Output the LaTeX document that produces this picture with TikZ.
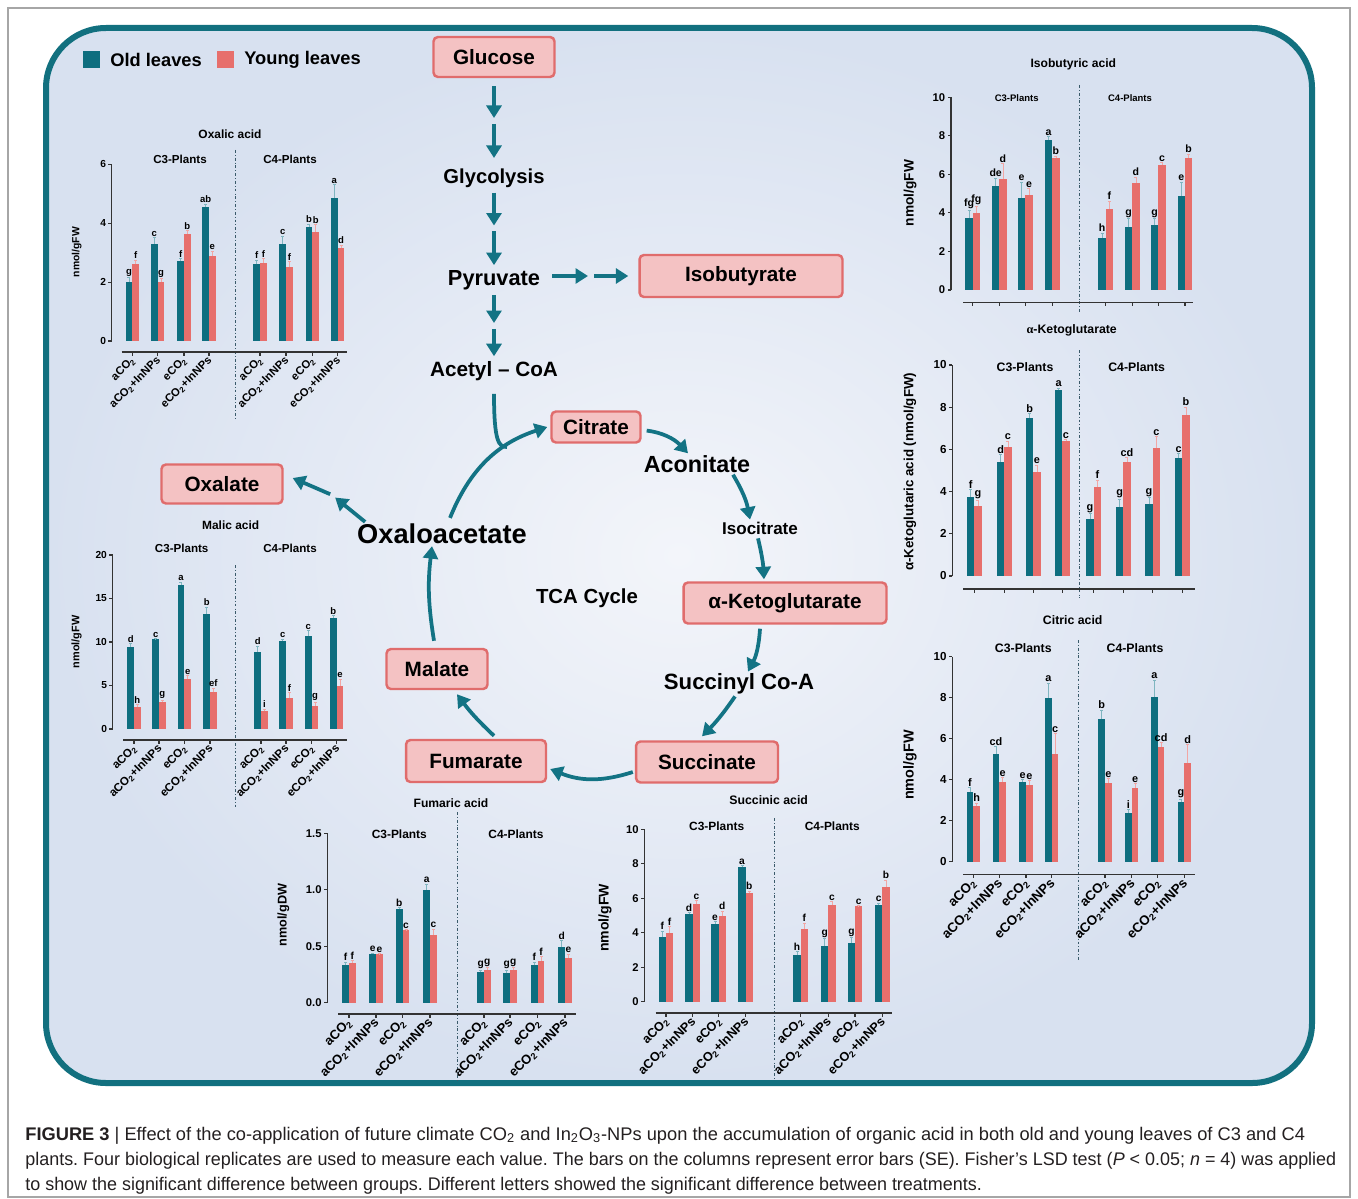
\documentclass[tikz,border=0pt]{standalone}
\usepackage{fontspec}
\setmainfont{Liberation Sans}
\newfontfamily\capfont{Liberation Sans}[FakeStretch=1.0]
\newfontfamily\capfontnarrow{Liberation Sans}[FakeStretch=0.982]
\newfontfamily\serifgreek{Liberation Serif}
\usetikzlibrary{arrows.meta,calc}

\definecolor{oldleaf}{HTML}{0E6E7F}
\definecolor{youngleaf}{HTML}{E76F6C}
\definecolor{olderrc}{HTML}{7FB5C0}
\definecolor{youngerrc}{HTML}{F2A6A4}
\definecolor{boxfill}{HTML}{F4C2C3}
\definecolor{boxedge}{HTML}{E06C6C}
\definecolor{framec}{HTML}{12707F}
\definecolor{flowc}{HTML}{137384}
\definecolor{bgout}{HTML}{D8E1F0}
\definecolor{bgin}{HTML}{F3F5FA}
\definecolor{axisc}{HTML}{333333}
\definecolor{divc}{HTML}{3A5A6A}
\definecolor{captextc}{HTML}{231F20}

\newcommand{\chfont}[1]{\fontsize{#1}{#1}\selectfont\bfseries}
\newcommand{\pathfont}[1]{\fontsize{#1}{#1}\selectfont\bfseries}
\newcommand{\chartfonts}[5]{\def\chT{#1}\def\chG{#2}\def\chK{#3}\def\chL{#4}\def\chX{#5}}
\newcommand{\cotwo}{CO\textsubscript{2}}
\newcommand{\treatlab}[1]{\ifcase#1\or a\cotwo\or a\cotwo+InNPs\or e\cotwo\or e\cotwo+InNPs\or a\cotwo\or a\cotwo+InNPs\or e\cotwo\or e\cotwo+InNPs\fi}

% one bar panel: #1 shift, #2 bars, #3 x labels (1/0), #4-#5 x axis, #6 y ticks, #7 y max
\newcommand{\barpanel}[7]{%
  \begin{scope}[shift={#1}, yscale=-\ppu]
    \draw[axisline] (0,0) -- (0,#7);
    \foreach \tk in {#6} \draw[axisline] (0,\tk) -- (-3.5,\tk) node[ytick] {\tk};
    \draw[axisline] (#4,-\xdrop/\ppu) -- (#5,-\xdrop/\ppu);
    \foreach \gx/\tv/\te/\tl/\rv/\re/\rl [count=\gi] in {#2} {
      \fill[oldleaf] (\gx-\bw,0) rectangle (\gx,\tv);
      \fill[youngleaf] (\gx,0) rectangle (\gx+\bw,\rv);
      \draw[errline, olderrc] (\gx-\bw/2,\tv) -- (\gx-\bw/2,\tv+\te) (\gx-\bw/2-1.5,\tv+\te) -- (\gx-\bw/2+1.5,\tv+\te);
      \draw[errline, youngerrc] (\gx+\bw/2,\rv) -- (\gx+\bw/2,\rv+\re) (\gx+\bw/2-1.5,\rv+\re) -- (\gx+\bw/2+1.5,\rv+\re);
      \node[barletter] at (\gx-\bw/2,\tv+\te) {\tl};
      \node[barletter] at (\gx+\bw/2,\rv+\re) {\rl};
      \draw[axisline] (\gx,-\xdrop/\ppu) -- (\gx,-\xdrop/\ppu-4/\ppu);
      \ifnum#3=1 \node[xlab] at (\gx+2,-\xdrop/\ppu-6/\ppu) {\treatlab{\gi}};\fi
    }
  \end{scope}}

\begin{document}
\frenchspacing
\begin{tikzpicture}[x=0.02cm, y=-0.02cm,
    metabox/.style={draw=boxedge, fill=boxfill, line width=1.4pt, rounded corners=2.5pt,
      inner sep=0pt, font=\pathfont{11.8}},
    pathtext/.style={inner sep=1pt},
    flow/.style={draw=flowc, line width=0.075cm, -{Triangle[width=0.3cm,length=0.25cm]}},
    flowline/.style={draw=flowc, line width=0.075cm},
    legsq/.style={minimum size=0.34cm, inner sep=0pt},
    legtext/.style={anchor=west, font=\pathfont{10.4}, inner sep=0pt},
    axisline/.style={draw=axisc, line width=0.6pt},
    errline/.style={line width=0.5pt},
    divline/.style={draw=divc, line width=0.5pt, dash pattern=on 1.6pt off 1.2pt on 0.4pt off 1.2pt},
    ytick/.style={left, inner sep=1pt, font=\chfont{\chK}},
    barletter/.style={above, inner sep=0.6pt, font=\chfont{\chL}},
    xlab/.style={rotate=45, anchor=east, inner sep=0.5pt, font=\chfont{\chX}},
    chtitle/.style={font=\chfont{\chT}},
    chgroup/.style={font=\chfont{\chG}},
    ylab/.style={rotate=90},
    captext/.style={anchor=base west, inner sep=0pt, text=captextc, font=\capfont\fontsize{10.4}{12}\selectfont}]

\useasboundingbox (0,0) rectangle (1358,1199);

% frames
\draw[gray!70, line width=0.6pt] (8,8) rectangle (1350,1197);
\shade[rounded corners=1.2cm, inner color=bgin, outer color=bgout] (46,28) rectangle (1312,1083);
\draw[framec, line width=0.12cm, rounded corners=1.2cm] (46,28) rectangle (1312,1083);

% legend
\node[legsq, fill=oldleaf] (oldsq) at (91.5,60) {};
\node[legtext] (oldtxt) at (110,60) {Old leaves};
\node[legsq, fill=youngleaf] (youngsq) at (225.5,60) {};
\node[legtext] (youngtxt) at (244,60) {Young leaves};

% pathway
\node[metabox, minimum width=2.42cm, minimum height=0.8cm] (glucose) at (494,57) {Glucose};
\node[pathtext, font=\pathfont{11.5}] (glycolysis) at (494,178) {Glycolysis};
\node[pathtext, font=\pathfont{12.4}] (pyruvate) at (494,280) {Pyruvate};
\node[metabox, minimum width=4.06cm, minimum height=0.84cm] (isobutyrate) at (741,276) {Isobutyrate};
\node[pathtext, font=\pathfont{11.8}] (acetyl) at (494,371) {Acetyl – CoA};
\node[metabox, minimum width=1.78cm, minimum height=0.62cm] (citrate) at (596,427) {Citrate};
\node[pathtext, font=\pathfont{13.3}] (aconitate) at (697,464) {Aconitate};
\node[pathtext, font=\pathfont{9.7}] (isocitrate) at (760,528) {Isocitrate};
\node[metabox, minimum width=4.06cm, minimum height=0.82cm] (akg) at (785,603) {α-Ketoglutarate};
\node[pathtext, font=\pathfont{12.6}] (succinyl) at (739,684) {Succinyl Co-A};
\node[metabox, minimum width=2.84cm, minimum height=0.82cm] (succinate) at (707,762) {Succinate};
\node[metabox, minimum width=2.8cm, minimum height=0.84cm] (fumarate) at (476,761) {Fumarate};
\node[metabox, minimum width=2.02cm, minimum height=0.8cm] (malate) at (437,669) {Malate};
\node[pathtext, font=\pathfont{15.5}] (oxaloacetate) at (442,534) {Oxaloacetate};
\node[metabox, minimum width=2.42cm, minimum height=0.78cm] (oxalate) at (222,484) {Oxalate};
\node[pathtext, font=\pathfont{11.6}] (tca) at (587,598) {TCA Cycle};

% double arrows down the glycolysis line
\coordinate (gmid1) at (494,121);
\coordinate (gmid2) at (494,228.5);
\coordinate (pmid1) at (591,276);
\coordinate (pmid2) at (494,326);
\coordinate (omid) at (332,495);
\coordinate (join) at (507,447);
\draw[flow, shorten <=0.16cm, shorten >=0.06cm] (glucose) -- (gmid1);
\draw[flow, shorten <=0.06cm, shorten >=0.17cm] (gmid1) -- (glycolysis);
\draw[flow, shorten <=0.06cm, shorten >=0.06cm] (glycolysis) -- (gmid2);
\draw[flow, shorten <=0.06cm, shorten >=0.06cm] (gmid2) -- (pyruvate);
\draw[flow, shorten <=0.2cm, shorten >=0.06cm] (pyruvate.east |- pmid1) -- (pmid1);
\draw[flow, shorten <=0.06cm, shorten >=0.2cm] (pmid1) -- (isobutyrate.west);
\draw[flow, shorten <=0.06cm, shorten >=0.06cm] (pyruvate) -- (pmid2);
\draw[flow, shorten <=0.06cm, shorten >=0.06cm] (pmid2) -- (acetyl);
\draw[flowline, shorten <=0.22cm] (acetyl.south) .. controls ([shift={(0,60)}]acetyl.south) and ([shift={(-8,0)}]join) .. (join);

% TCA cycle
\draw[flow, shorten <=0.1cm] ([shift={(0,3)}]citrate.east) to[bend left=20] ([shift={(-9,0)}]aconitate.north);
\draw[flow] ([shift={(36,0)}]aconitate.south) to[bend left=10] ([shift={(-10,0)}]isocitrate.north);
\draw[flow] ([shift={(-2,2)}]isocitrate.south) to[bend left=5] ([shift={(-21,-2)}]akg.north);
\draw[flow] ([shift={(-25,4)}]akg.south) to[bend left=12] ([shift={(9,0)}]succinyl.north);
\draw[flow] ([shift={(-4,0)}]succinyl.south) to[bend left=5] ([shift={(-5,-4)}]succinate.north);
\draw[flow] ([shift={(-2,10)}]succinate.west) to[bend left=20] ([shift={(3,8)}]fumarate.east);
\draw[flow] ([shift={(18,-3)}]fumarate.north) to[bend left=5] ([shift={(20,4)}]malate.south);
\draw[flow] ([shift={(-3,-7)}]malate.north) to[bend left=8] ([shift={(-10,0)}]oxaloacetate.south);
\draw[flow] ([shift={(8,-4)}]oxaloacetate.north) to[bend left=25] ([shift={(-3,0)}]citrate.west);
\draw[flow, shorten >=0.08cm] ([shift={(10,0)}]oxaloacetate.north west) -- (omid);
\draw[flow, shorten <=0.04cm] (omid) -- ([shift={(9,-6)}]oxalate.east);

% Oxalic acid
\chartfonts{6.8}{6.6}{5.8}{5.4}{6.4}
\def\ppu{29.45}\def\bw{6.7}\def\xdrop{11}
\node[chtitle] (oxtitle) at (230,134) {Oxalic acid};
\node[chgroup] (oxcthree) at (180,159) {C3-Plants};
\node[chgroup] (oxcfour) at (290,159) {C4-Plants};
\node[ylab, font=\chfont{5.9}] (oxylab) at (76.7,252) {nmol/gFW};
\draw[divline] (235.7,150) -- (235.7,420);
\barpanel{(111.7,341)}{20.6/2.0/0.15/g/2.6/0.15/f, 46/3.3/0.2/c/2.02/0.1/g, 72.3/2.7/0.1/f/3.65/0.1/b, 97.3/4.55/0.1/ab/2.9/0.15/e, 148.3/2.6/0.15/f/2.65/0.15/f, 174.3/3.3/0.25/c/2.5/0.2/f, 200.6/3.88/0.08/b/3.7/0.25/b, 226/4.85/0.45/a/3.15/0.1/d}{1}{10}{235}{0,2,4,6}{6}

% Malic acid
\chartfonts{6.8}{6.6}{5.8}{5.4}{6.6}
\def\ppu{8.7}\def\bw{6.7}\def\xdrop{11}
\node[chtitle] (maltitle) at (230.7,525) {Malic acid};
\node[chgroup] (malcthree) at (181.7,548) {C3-Plants};
\node[chgroup] (malcfour) at (290,548) {C4-Plants};
\node[ylab, font=\chfont{6.2}] (malylab) at (76.7,642) {nmol/gFW};
\draw[divline] (235.7,565) -- (235.7,808);
\barpanel{(112.7,729)}{21.3/9.4/0.4/d/2.5/0.3/h, 46.3/10.3/0.1/c/3.1/0.2/g, 71.6/16.5/0.4/a/5.8/0.3/e, 97.3/13.2/0.8/b/4.2/0.5/ef, 148.3/8.9/0.6/d/2.1/0.2/i, 173.3/10.1/0.2/c/3.6/0.6/f, 199/10.7/0.6/c/2.7/0.4/g, 224/12.8/0.2/b/5.0/0.7/e}{1}{10.6}{234.6}{0,5,10,15,20}{20}

% Fumaric acid
\chartfonts{6.9}{6.8}{6.4}{5.8}{7.4}
\def\ppu{112.9}\def\bw{6.7}\def\xdrop{11.3}
\node[chtitle] (fumtitle) at (451,803) {Fumaric acid};
\node[chgroup] (fumcthree) at (399.3,834.3) {C3-Plants};
\node[chgroup] (fumcfour) at (516,834.3) {C4-Plants};
\node[ylab, font=\chfont{7.2}] (fumylab) at (283.3,915) {nmol/gDW};
\draw[divline] (457.3,812) -- (457.3,1080);
\barpanel{(327.3,1002.7)}{21.7/0.33/0.03/f/0.35/0.02/f, 48.7/0.43/0.01/e/0.43/0.005/e, 75.4/0.83/0.01/b/0.64/0.005/c, 102.7/1.0/0.05/a/0.6/0.05/c, 156.7/0.27/0.02/g/0.29/0.02/g, 182.7/0.26/0.03/g/0.29/0.02/g, 210.4/0.33/0.03/f/0.37/0.04/f, 237.7/0.49/0.06/d/0.40/0.03/e}{1}{11}{249}{0.0,0.5,1.0,1.5}{1.5}

% Succinic acid
\chartfonts{7.0}{6.8}{6.4}{5.8}{7.2}
\def\ppu{17.24}\def\bw{7.3}\def\xdrop{11.3}
\node[chtitle] (suctitle) at (768.7,800) {Succinic acid};
\node[chgroup] (succthree) at (716.7,826.7) {C3-Plants};
\node[chgroup] (succfour) at (832.3,826.7) {C4-Plants};
\node[ylab, font=\chfont{8.0}] (sucylab) at (605,918) {nmol/gFW};
\draw[divline] (774.3,818) -- (774.3,1080);
\barpanel{(644.3,1001.7)}{21.7/3.75/0.35/f/4.0/0.35/f, 48.4/5.1/0.05/d/5.65/0.2/c, 74.4/4.5/0.15/e/4.95/0.3/d, 101.4/7.8/0.1/a/6.3/0.1/b, 156.4/2.7/0.2/h/4.2/0.35/f, 184/3.25/0.4/g/5.6/0.2/c, 210.7/3.4/0.3/g/5.55/0.03/c, 238/5.6/0.1/c/6.65/0.4/b}{1}{11.4}{247.4}{0,2,4,6,8,10}{10}

% Isobutyric acid
\chartfonts{6.9}{5.4}{6.4}{6.0}{7.2}
\def\ppu{19.27}\def\bw{7.3}\def\xdrop{12.3}
\node[chtitle] (isotitle) at (1073.3,64) {Isobutyric acid};
\node[chgroup] (isocthree) at (1016.7,98.3) {C3-Plants};
\node[chgroup] (isocfour) at (1130,98.3) {C4-Plants};
\node[ylab, font=\chfont{7.8}] (isoylab) at (910,193) {nmol/gFW};
\draw[divline] (1079.3,85) -- (1079.3,312);
\barpanel{(951,290)}{21.7/3.75/0.4/fg/4.0/0.35/fg, 48.3/5.4/0.4/de/5.75/0.8/d, 74.3/4.8/0.8/e/4.95/0.3/e, 101.3/7.8/0.15/a/6.85/0.1/b, 154.7/2.7/0.25/h/4.2/0.4/f, 181.3/3.25/0.45/g/5.55/0.3/d, 207.3/3.35/0.35/g/6.5/0.1/c, 234/4.9/0.7/e/6.85/0.2/b}{0}{12.3}{242.3}{0,2,4,6,8,10}{10}

% alpha-Ketoglutarate
\chartfonts{7.0}{7.0}{6.6}{6.2}{7.4}
\def\ppu{21.1}\def\bw{7.3}\def\xdrop{13}
\node[chtitle] (akgtitle) at (1071.7,330) {{\serifgreek α}-Ketoglutarate};
\node[chgroup] (akgcthree) at (1025,366.7) {C3-Plants};
\node[chgroup] (akgcfour) at (1136.7,366.7) {C4-Plants};
\node[ylab, font=\chfont{7.6}] (akgylab) at (910,471.7) {α-Ketoglutaric acid (nmol/gFW)};
\draw[divline] (1079.3,350) -- (1079.3,598);
\barpanel{(952.3,576)}{22/3.75/0.35/f/3.3/0.3/g, 52/5.4/0.35/d/6.1/0.3/c, 81/7.5/0.2/b/4.95/0.3/e, 110/8.8/0.1/a/6.4/0.05/c, 141.4/2.7/0.25/g/4.2/0.35/f, 171/3.25/0.4/g/5.4/0.2/cd, 200.4/3.4/0.3/g/6.05/0.55/c, 230/5.6/0.2/c/7.65/0.35/b}{0}{11}{242.7}{0,2,4,6,8,10}{10}

% Citric acid
\chartfonts{7.0}{7.0}{6.6}{6.2}{7.6}
\def\ppu{20.5}\def\bw{6.7}\def\xdrop{12.6}
\node[chtitle] (cittitle) at (1072.7,620) {Citric acid};
\node[chgroup] (citcthree) at (1023.3,648.3) {C3-Plants};
\node[chgroup] (citcfour) at (1135,648.3) {C4-Plants};
\node[ylab, font=\chfont{8.2}] (citylab) at (910,765) {nmol/gFW};
\draw[divline] (1078.3,640) -- (1078.3,960);
\barpanel{(952.3,861.7)}{21/3.4/0.2/f/2.7/0.15/h, 47/5.25/0.35/cd/3.9/0.2/e, 73.7/3.9/0.1/e/3.75/0.2/e, 99.4/8.0/0.7/a/5.25/1.0/c, 152.7/6.95/0.45/b/3.85/0.2/e, 179.4/2.4/0.15/i/3.6/0.2/e, 205.4/8.05/0.8/a/5.6/0.2/cd, 232/2.9/0.15/g/4.8/0.9/d}{1}{11}{242.7}{0,2,4,6,8,10}{10}

% caption
\node[captext] (capone) at (25,1140) {{\bfseries FIGURE 3} | Effect of the co-application of future climate CO\textsubscript{2} and In\textsubscript{2}O\textsubscript{3}-NPs upon the accumulation of organic acid in both old and young leaves of C3 and C4};
\node[captext, font=\capfontnarrow\fontsize{10.4}{12}\selectfont] (captwo) at (25,1165) {plants. Four biological replicates are used to measure each value. The bars on the columns represent error bars (SE). Fisher’s LSD test (\textit{P} < 0.05; \textit{n} = 4) was applied};
\node[captext, font=\capfontnarrow\fontsize{10.4}{12}\selectfont] (capthree) at (25,1190) {to show the significant difference between groups. Different letters showed the significant difference between treatments.};
\end{tikzpicture}
\end{document}
